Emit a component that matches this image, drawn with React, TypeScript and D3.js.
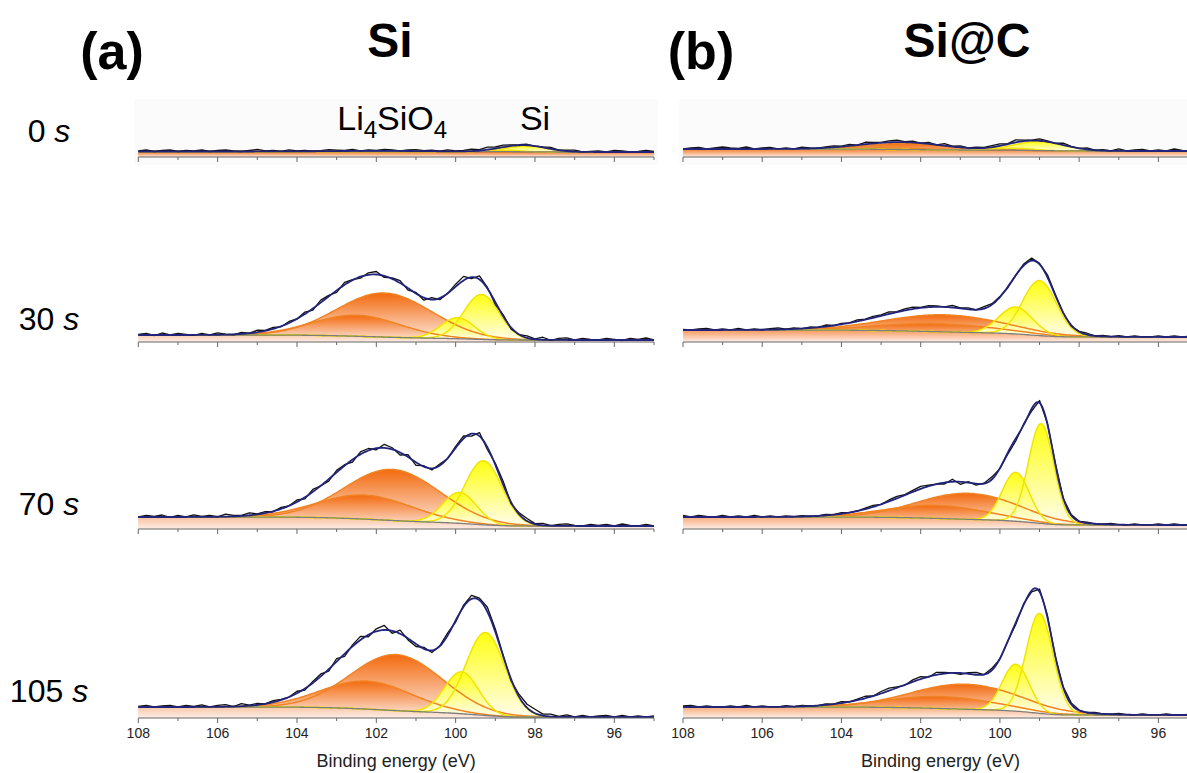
import * as d3 from "d3";

const W = 1187;
const H = 773;

const timeLabels = ["0", "30", "70", "105"];
const sampleNames = ["Si", "Si@C"];
const panelTags = ["(a)", "(b)"];
const majorTicks = [108, 106, 104, 102, 100, 98, 96];
const minorTicks = [107, 105, 103, 101, 99, 97, 95];
const xTitle = "Binding energy (eV)";

// fitted components: [centre eV, height, fwhm eV] for 0 s, 30 s, 70 s, 105 s
const siOxMain = [[101.6, 0.4, 2.8], [101.8, 44, 2.8], [101.6, 51, 2.8], [101.5, 56, 2.7]];
const siOxMinor = [[102.3, 0.3, 2.8], [102.5, 21, 2.6], [102.3, 24, 2.8], [102.25, 28, 2.7]];
const siCoreMain = [[98.2, 6, 1.2], [99.35, 45, 1.05], [99.3, 64, 1.1], [99.25, 83, 1.15]];
const siCoreMinor = [[98.8, 1.5, 1.0], [99.95, 21, 1.0], [99.9, 31, 1.0], [99.85, 42, 1.0]];
// Shirley background [high-BE end, low-BE end]
const siBackground = [[5.5, 5], [7, 2], [12, 3], [11, 1]];

const siCOxMain = [[102.4, 6, 2.4], [101.4, 17, 3.5], [100.8, 26, 3.0], [100.87, 25, 3.2]];
const siCOxMinor = [[102.8, 1.5, 2.2], [101.6, 8, 3.5], [101.6, 13, 3.0], [101.5, 12, 3.2]];
const siCCoreMain = [[99.0, 9, 1.5], [99.0, 55, 1.0], [98.96, 100, 0.75], [99.0, 100, 0.8]];
const siCCoreMinor = [[99.6, 2, 1.0], [99.6, 27, 1.0], [99.6, 49, 0.8], [99.6, 47, 0.8]];
const siCBackground = [[8, 6], [12, 5], [12, 4], [11, 3]];

// measured minus fit, read every ~0.2 eV from 108 eV down to 95 eV
const siResid0 = [0.5, 1.5, 0, 1, 1.5, 0, 1, 0.5, 1.5, 0, 1, 1.5, 0.5, 0, 1, 2, 0.5, 1, 0, 1.5, 0.5, 1, 0, 0.5, 1.5, 1, 0.5, 1.5, 0, 1, 0.5, 1.5, 1, 0, 1, 1.5, 0.5, 1, 0, 1.5, 0.5, 1, 2, 1, 2.5, 1.5, 2, 1, 0.5, 1, 0, 0.5, 1.5, 0, 1, 1.5, 0, 0.5, 1, 0, 1.5, 1, 0, 0.5, 1.5, 0.5];
const siResid30 = [0.5, 1.5, -0.5, 2, 0, 1.5, 0.5, -0.5, 1.5, 0, 2, 0.5, -0.5, 1.5, 0, 2, 0.5, 1.5, -0.5, 1.5, 0, 2, -1.5, 2.5, 1, -2, 2.5, 0.5, -1.5, 2, 3, -1.5, 1, 2.5, -2, 1, -2.5, 2, -1.5, 0, 2.5, 4, -1.5, 3.5, 1, -2.5, 1.5, -1.5, 0, 2, 0.5, 2.5, -0.5, 1.5, 2, 0, 1.5, 0.5, 0, 1.5, 0.5, -0.5, 1.5, 0.5, 2, 0];
const siResid70 = [0, 1.5, 0.5, 2, -0.5, 1.5, 0, 2, 0.5, 1.5, 0, 2.5, 1, 0.5, 2.5, 0.5, 1.5, -0.5, 1.5, 0, 2, -1.5, 2.5, 0, -2, 2, 1, -2.5, 2.5, 2, -1.5, 3.5, 1.5, -2.5, 2.5, -3, 1, -1.5, 1.5, -0.5, 1.5, 2.5, -2.5, 3.5, -2.5, 1.5, 3.5, -1.5, 1.5, 2.5, 0.5, 2, 0, 1.5, 2, 0.5, 0, 1.5, 0.5, 1.5, 0, 2, 0.5, 0, 1.5, 0];
const siResid105 = [0.5, 1.5, 0, 1, 1.5, 0, 1.5, 0.5, 2, 0, 1.5, 2, 0, 2.5, 0.5, 1.5, 0, 1.5, 0.5, 0, 2, -1.5, 1.5, 2.5, -2, 3, -2.5, 1.5, 3.5, -2, 2.5, 4.5, -2.5, 3.5, -1.5, -2.5, 1.5, -2, 0.5, 2.5, -1.5, 1.5, 3.5, 2, 4.5, 3, 1, -1.5, 2.5, 3.5, 4, 1.5, 2.5, 0.5, 2, 0, 1.5, 0, 1, 1.5, 0, 1.5, 0, 1, 0, 1];
const siCResid0 = [0, 1, 1.5, 0, 1, 2, 1, 0.5, 2, 0, 1, 1.5, 0, 1, 0, 1.5, 0.5, 0, 1, 1.5, 0.5, 1.5, 0, 2, 1, 0.5, 1.5, 2, 0.5, 1.5, 0, 1.5, 0, 2, 0.5, 1.5, 0, 1, 0.5, 1.5, 2, 0.5, 2.5, 1, 0.5, 2, 1, 0, 2, 0.5, 0, 1.5, 0, 1, 0, 2, 0, 1, 1.5, 0, 1, 0, 2, 0.5, 0, 1];
const siCResid30 = [0.5, 0, 1, 1.5, 0, 1, 0, 1.5, 0, 1, 0, 1, 1.5, 0, 1, 0, 1, 0, 1.5, 0, 1, 0, 1.5, 0.5, 1.5, 1, 2, 0.5, 1.5, 2, 0.5, 1.5, 1, 0, 2, 0.5, 1.5, 0, 2, 1, 0.5, -1, 0, 1.5, 2.5, 1, 2.5, 1, 0, -1, 0.5, 1.5, 0, 1, 0, 1, 0, 1, 0, 0, 1, 0, 1, 0, 1, 0];
const siCResid70 = [1.5, 0, 1.5, 0.5, 0, 1.5, 0, 1, 0, 1.5, 0, 1, 0, 1, 0, 1, 0, 0, 1, 0, 1, 0, 0, 1, 1.5, 0, 1.5, 2, 0.5, 1.5, 2.5, 1, 0, -1.5, 2.5, -2.5, 1, -1.5, 0.5, 2.5, -0.5, -1.5, -2.5, 1, -2.5, 2, 0.5, 1, 0, 1, 0, 1, 0, 0, 1, 0, 0, 1, 0, 0, 1, 0, 1, 0, 0, 0];
const siCResid105 = [1, 1.5, 0, 1, 0, 0, 1, 0, 1.5, 0, 1, 0, 0, 1, 0, 1, 0, 0, 1, 0, 1.5, 0, 1, 2, 0, 2, 2.5, 1, -0.5, 2, 2.5, -0.5, 2.5, 1, 0, -1.5, 1, 2.5, 0, 2, -0.5, 0, -2, 1, -1.5, 2.5, 2, -0.5, 1, 1.5, 0.5, 0, 1, 0, 0, 1, 0, 0, 1, 0, 0, 1, 0, 0, 1, 0];

const columns = [
  { oxMain: siOxMain, oxMinor: siOxMinor, coreMain: siCoreMain, coreMinor: siCoreMinor, bg: siBackground, resid: [siResid0, siResid30, siResid70, siResid105] },
  { oxMain: siCOxMain, oxMinor: siCOxMinor, coreMain: siCCoreMain, coreMinor: siCCoreMinor, bg: siCBackground, resid: [siCResid0, siCResid30, siCResid70, siCResid105] },
];

const ROW_AXIS = [157, 342, 529, 718];
const COL_RANGE = [[138.3, 654], [683, 1198]];
const FONT = "'Liberation Sans', Arial, sans-serif";

const K = 4 * Math.log(2);
const gauss = (e: number, p: number[]) => p[1] * Math.exp(-K * ((e - p[0]) / p[2]) ** 2);

// Abramowitz-Stegun erf
function erf(x: number) {
  const s = Math.sign(x);
  const a = Math.abs(x);
  const t = 1 / (1 + 0.3275911 * a);
  const y = 1 - (((((1.061405429 * t - 1.453152027) * t) + 1.421413741) * t - 0.284496736) * t + 0.254829592) * t * Math.exp(-a * a);
  return s * y;
}
const gaussCum = (e: number, p: number[]) => {
  const sigma = p[2] / 2.35482;
  return p[1] * p[2] * 0.5 * (1 + erf((e - p[0]) / (sigma * Math.SQRT2)));
};

const grid = d3.range(108, 94.99, -0.05);

function Panel({ col, row }: { col: number; row: number }) {
  const d = columns[col];
  const ox = [d.oxMain[row], d.oxMinor[row]];
  const core = [d.coreMain[row], d.coreMinor[row]];
  const all = [...ox, ...core];
  const [hi, lo] = d.bg[row];
  const total = d3.sum(all, (p) => p[1] * p[2]);
  const bg = (e: number) => lo + ((hi - lo) * d3.sum(all, (p) => gaussCum(e, p))) / total;
  const env = (e: number) => bg(e) + d3.sum(all, (p) => gauss(e, p));

  const axisY = ROW_AXIS[row];
  const x = d3.scaleLinear().domain([108, 95]).range(COL_RANGE[col]);
  const y = d3.scaleLinear().domain([0, 100]).range([axisY, axisY - 100]);

  const oxArea = (p: number[]) =>
    d3.area<number>().x((e) => x(e)).y0(axisY).y1((e) => y(bg(e) + gauss(e, p)))(grid) || "";
  const coreArea = (p: number[]) =>
    d3.area<number>().x((e) => x(e)).y0((e) => y(bg(e))).y1((e) => y(bg(e) + gauss(e, p)))(grid) || "";
  const compLine = (p: number[]) =>
    d3.line<number>().x((e) => x(e)).y((e) => y(bg(e) + gauss(e, p)))(grid) || "";
  const bgLine = d3.line<number>().x((e) => x(e)).y((e) => y(bg(e)))(grid) || "";
  const envLine = d3.line<number>().x((e) => x(e)).y((e) => y(env(e))).curve(d3.curveBasis)(grid) || "";

  const resid = d.resid[row];
  const step = 13 / (resid.length - 1);
  const rawLine =
    d3.line<number>().x((_, i) => x(108 - i * step)).y((r, i) => y(env(108 - i * step) + r))(resid) || "";

  const [x0, x1] = x.range();
  return (
    <g>
      {row === 0 && <rect x={x0 - 4} y={axisY - 58} width={x1 - x0 + 8} height={66} fill="#fbfbfb" />}
      {ox.map((p, i) => (
        <path key={"oa" + i} d={oxArea(p)} fill="url(#gOrange)" />
      ))}
      {core.map((p, i) => (
        <path key={"ca" + i} d={coreArea(p)} fill="url(#gYellow)" />
      ))}
      {ox.map((p, i) => (
        <path key={"ol" + i} d={compLine(p)} fill="none" stroke="#f08424" strokeWidth={1.5} />
      ))}
      {core.map((p, i) => (
        <path key={"cl" + i} d={compLine(p)} fill="none" stroke="#f2e400" strokeWidth={1.5} />
      ))}
      <path d={bgLine} fill="none" stroke="#7d7d7d" strokeWidth={1.3} />
      <path d={rawLine} fill="none" stroke="#111" strokeWidth={1.3} strokeLinejoin="round" />
      <path d={envLine} fill="none" stroke="#22237a" strokeWidth={1.8} />
      <line x1={x0} x2={x1} y1={axisY} y2={axisY} stroke="#666" strokeWidth={1} />
      {majorTicks.map((t) => (
        <line key={"M" + t} x1={x(t)} x2={x(t)} y1={axisY} y2={axisY + 5} stroke="#666" />
      ))}
      {minorTicks.map((t) => (
        <line key={"m" + t} x1={x(t)} x2={x(t)} y1={axisY} y2={axisY + 3} stroke="#666" />
      ))}
      {row === 3 &&
        majorTicks.map((t) => (
          <text key={"t" + t} x={x(t)} y={axisY + 20} fontSize={14} textAnchor="middle" fill="#222" fontFamily={FONT}>
            {t}
          </text>
        ))}
      {row === 3 && (
        <text x={(x0 + x1) / 2} y={767} fontSize={18} textAnchor="middle" fill="#222" fontFamily={FONT}>
          {xTitle}
        </text>
      )}
    </g>
  );
}

export default function App() {
  const xl = d3.scaleLinear().domain([108, 95]).range(COL_RANGE[0]);
  const rowBase = [142, 330, 515, 702];
  return (
    <svg width={W} height={H} style={{ position: "absolute", left: 0, top: 0, background: "#fff" }}>
      <defs>
        <linearGradient id="gOrange" x1="0" y1="0" x2="0" y2="1">
          <stop offset="0%" stopColor="#f36a0e" />
          <stop offset="100%" stopColor="#fdeee8" />
        </linearGradient>
        <linearGradient id="gYellow" x1="0" y1="0" x2="0" y2="1">
          <stop offset="0%" stopColor="#ffff10" />
          <stop offset="100%" stopColor="#fffdec" />
        </linearGradient>
      </defs>
      <rect width={W} height={H} fill="#fff" />
      {columns.map((_, c) =>
        timeLabels.map((_, r) => <Panel key={c + "-" + r} col={c} row={r} />)
      )}
      {panelTags.map((t, i) => (
        <text key={t} x={[112, 701][i]} y={69} fontSize={52} fontWeight="bold" textAnchor="middle" fontFamily={FONT}>
          {t}
        </text>
      ))}
      {sampleNames.map((s, i) => (
        <text key={s} x={[390, 967][i]} y={57} fontSize={48} fontWeight="bold" textAnchor="middle" fontFamily={FONT}>
          {s}
        </text>
      ))}
      {timeLabels.map((t, i) => (
        <text key={t} x={49} y={rowBase[i]} fontSize={32} textAnchor="middle" fontFamily={FONT}>
          {t + " "}
          <tspan fontStyle="italic">s</tspan>
        </text>
      ))}
      <text x={xl(101.6)} y={130} fontSize={34} textAnchor="middle" fontFamily={FONT}>
        Li<tspan dy={8} fontSize={24}>4</tspan>
        <tspan dy={-8}>SiO</tspan>
        <tspan dy={8} fontSize={24}>4</tspan>
      </text>
      <text x={xl(98.0)} y={130} fontSize={34} textAnchor="middle" fontFamily={FONT}>
        Si
      </text>
    </svg>
  );
}
